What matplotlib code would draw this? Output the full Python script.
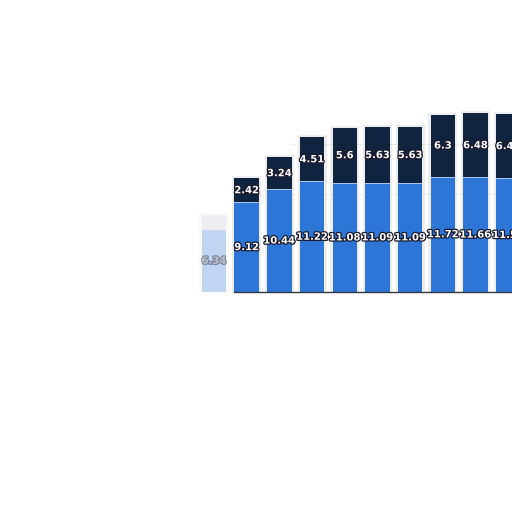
import matplotlib
matplotlib.use("Agg")
import matplotlib.pyplot as plt
import matplotlib.patheffects as pe

categories = ["1", "2", "3", "4", "5", "6", "7", "8", "9", "10"]
lower = [6.34, 9.12, 10.44, 11.22, 11.08, 11.09, 11.09, 11.72, 11.66, 11.58]
upper = [1.5, 2.42, 3.24, 4.51, 5.6, 5.63, 5.63, 6.3, 6.48, 6.45]
lower_labels = ["6.34", "9.12", "10.44", "11.22", "11.08", "11.09", "11.09", "11.72", "11.66", "11.58"]
upper_labels = ["", "2.42", "3.24", "4.51", "5.6", "5.63", "5.63", "6.3", "6.48", "6.45"]

blue = "#2d76d8"
navy = "#10243f"

fig = plt.figure(figsize=(5.12, 5.12), dpi=100)
ax = fig.add_axes([0, 0, 1, 1])
pitch = 32.7
x0 = -214 / pitch
ax.set_xlim(x0, x0 + 512 / pitch)
scale = 9.85
ax.set_ylim(-220 / scale, 292 / scale)
ax.axis("off")

xs = list(range(len(categories)))
w = 0.75

# faint dotted grid
ax.plot([1.0, 9.6], [10, 10], ls=(0, (1, 2)), color="#cccccc", lw=0.6, zorder=0)
ax.plot([2.4, 9.6], [15, 15], ls=(0, (1, 2)), color="#cccccc", lw=0.6, zorder=0)

for i in xs:
    a = 0.28 if i == 0 else 1.0
    tot = lower[i] + upper[i]
    # soft shadow
    ax.bar(i, tot + 0.3, width=w + 0.14, bottom=-0.1, color="#000000", alpha=0.07 * a, zorder=1, lw=0)
    ax.bar(i, lower[i], width=w, color=blue, alpha=a, zorder=2, lw=0)
    ax.bar(i, upper[i], width=w, bottom=lower[i], color=navy if i else "#c8d2de", alpha=a, zorder=2, lw=0)
    ax.plot([i - w / 2, i + w / 2], [lower[i], lower[i]], color="white", lw=0.6, alpha=0.7 * a, zorder=3)
    eff = [pe.withStroke(linewidth=1.8, foreground="#1a1a2e")]
    ax.text(i, lower[i] / 2, lower_labels[i], ha="center", va="center", color="white",
            fontsize=7.2, fontweight="bold", alpha=0.4 if i == 0 else 1, path_effects=eff, zorder=4)
    if upper_labels[i]:
        ax.text(i, lower[i] + upper[i] / 2, upper_labels[i], ha="center", va="center", color="white",
                fontsize=7.2, fontweight="bold", path_effects=eff, zorder=4)

ax.plot([0.6, 9.7], [0, 0], color="#333a44", lw=1.0, zorder=3)

fig.savefig("out.png", dpi=100)
